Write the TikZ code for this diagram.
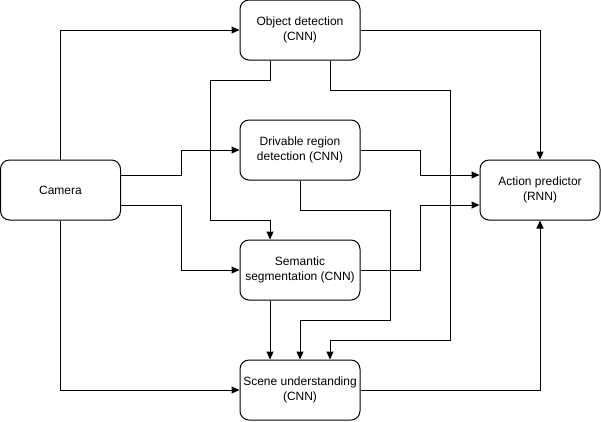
\documentclass[tikz,border=0pt]{standalone}
\usepackage{fontspec}
\setmainfont{Liberation Sans}
\usetikzlibrary{arrows.meta}
\begin{document}
\begin{tikzpicture}[x=1pt,y=-1pt,
  box/.style={draw,line width=1pt,rounded corners=9pt,minimum width=120pt,minimum height=60pt,
    align=center,inner sep=2pt,font=\fontsize{12}{15}\selectfont},
  conn/.style={line width=1pt,-{Stealth[length=8pt,width=7pt,inset=0pt]}}]
\useasboundingbox (0,0) rectangle (601,421);
\node[box] (cam) at (60.5,190) {Camera};
\node[box] (obj) at (300,30) {Object detection\\(CNN)};
\node[box] (drv) at (300,150) {Drivable region\\detection (CNN)};
\node[box] (sem) at (300,270) {Semantic\\segmentation (CNN)};
\node[box] (scn) at (300,390) {Scene understanding\\(CNN)};
\node[box] (act) at (540,190) {Action predictor\\(RNN)};
\draw[conn] (cam.north) |- (obj.west);
\draw[conn] (cam.south) |- (scn.west);
\draw[conn] ([yshift=15pt]cam.east) -- ++(60,0) |- (drv.west);
\draw[conn] ([yshift=-15pt]cam.east) -- ++(60,0) |- (sem.west);
\draw[conn] (obj.east) -| (act.north);
\draw[conn] ([xshift=-30pt]obj.south) -- ++(0,20) -- ++(-60,0) -- ++(0,140) -| ([xshift=-30pt]sem.north);
\draw[conn] ([xshift=30pt]obj.south) -- ++(0,30) -| (450,340) -| ([xshift=30pt]scn.north);
\draw[conn] (drv.east) -- ++(60,0) |- ([yshift=15pt]act.west);
\draw[conn] (drv.south) -- ++(0,30) -| (390,320) -| (scn.north);
\draw[conn] (sem.east) -- ++(60,0) |- ([yshift=-15pt]act.west);
\draw[conn] ([xshift=-30pt]sem.south) -- ([xshift=-30pt]scn.north);
\draw[conn] (scn.east) -| (act.south);
\end{tikzpicture}
\end{document}
